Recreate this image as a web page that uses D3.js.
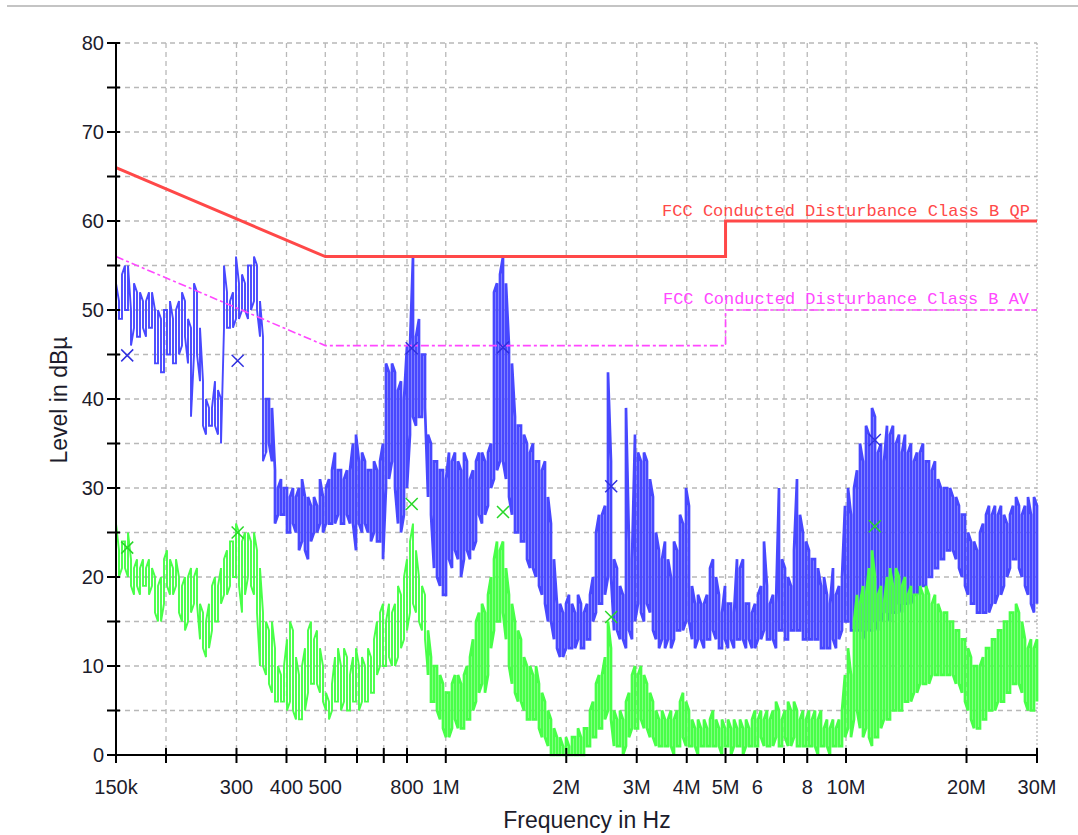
<!DOCTYPE html>
<html>
<head>
<meta charset="utf-8">
<script src="https://cdn.jsdelivr.net/npm/d3@7"></script>
<style>
  html, body { margin: 0; padding: 0; background: #fff; }
  svg { display: block; }
</style>
</head>
<body>
<svg id="chart" width="1078" height="835"></svg>
<script>
// Sweep range of the receiver (log-spaced sweep points)
const sweepStart = 150e3;
const sweepStop = 30e6;

// Peak detector trace: upper / lower level of each sweep bin (dBµV)
const peakHi = [
  53,51,54,55,55,50,53,52,52,51, 51,52,52,50,50,49,50,50,51,49,
  50,51,52,51,49,48,53,52,48,42, 40,39,39,42,41,40,55,52,51,52,
  56,53,54,53,55,55,56,55,51,47, 40,40,39,32,30,31,30,30,29,30,
  29,30,31,29,29,28,29,28,31,29, 30,31,32,34,32,32,31,32,32,35,
  36,33,34,33,32,32,33,32,33,35, 44,43,44,43,41,42,40,46,46,56,
  47,49,45,45,36,35,33,33,32,32, 31,34,33,34,33,32,34,33,31,32,
  33,34,34,33,34,35,52,53,54,56, 53,46,44,38,37,37,36,35,34,35,
  33,33,32,33,29,26,22,17,17,16, 17,18,17,16,18,17,16,17,18,20,
  25,27,27,28,43,33,22,21,19,18, 39,24,22,36,34,33,34,33,31,29,
  25,23,22,24,22,20,24,23,27,26, 30,28,19,17,18,17,17,18,21,22,
  20,18,16,19,17,17,16,22,21,22, 17,17,16,17,18,19,24,19,17,18,
  17,30,22,21,20,19,23,31,27,25, 24,23,22,22,21,19,20,18,17,21,
  18,19,20,28,30,27,30,32,35,33, 37,36,39,38,34,35,33,37,36,37,
  35,36,34,36,34,35,33,34,34,35, 33,33,32,33,31,30,30,30,30,29,
  29,28,27,27,25,24,24,23,25,26, 27,28,27,28,27,28,27,26,27,28,
  29,28,27,28,29,27,29,28
];
const peakLo = [
  48,49,49,50,50,46,48,47,47,48, 47,48,48,44,44,43,43,45,45,44,
  44,45,46,47,44,38,45,45,42,37, 36,37,37,37,36,35,48,48,48,48,
  49,49,50,50,49,50,51,50,47,33, 34,35,33,26,27,27,27,25,25,26,
  25,23,24,23,22,24,25,25,26,25, 26,26,26,26,27,26,26,27,26,26,
  23,26,25,26,25,24,25,24,24,22, 30,31,33,30,26,25,27,30,36,38,
  37,38,38,39,29,27,21,20,19,18, 18,22,21,23,22,20,22,23,22,23,
  24,27,26,27,28,30,31,32,33,33, 31,29,27,25,25,24,24,22,21,21,
  20,19,18,17,15,15,13,12,11,11, 12,12,12,12,13,12,12,13,13,15,
  16,17,17,18,20,20,14,14,13,13, 12,14,13,15,17,16,15,17,16,14,
  13,12,13,12,13,12,13,14,14,14, 15,15,13,12,13,13,12,13,13,14,
  13,12,12,13,12,13,12,13,13,13, 12,13,12,12,13,13,14,13,13,13,
  12,14,14,13,13,14,14,14,14,13, 13,13,13,13,13,12,12,12,12,13,
  12,13,14,15,15,14,14,14,14,13, 14,14,14,15,14,15,16,16,15,16,
  16,17,16,17,17,17,18,18,19,19, 19,20,20,21,21,22,22,23,23,23,
  22,21,20,19,18,17,17,16,16,16, 16,16,17,17,18,18,19,20,21,22,
  22,21,20,19,18,17,16,17
];

// Average detector trace: upper / lower level of each sweep bin (dBµV)
const avgHi = [
  26,23,24,24,25,22,21,22,21,22, 21,22,21,20,19,20,22,23,22,21,
  22,20,19,20,20,21,20,21,17,16, 15,17,19,20,19,21,22,23,24,24,
  26,25,24,25,25,24,25,23,21,16, 15,14,15,12,10,9,10,13,15,14,
  11,9,10,12,14,15,13,14,12,10, 7,6,8,11,12,10,12,11,9,11,
  12,10,11,10,12,11,13,15,16,17, 15,17,16,17,19,18,20,22,24,26,
  23,20,19,18,14,11,10,10,9,8, 7,7,8,9,9,8,9,10,11,13,
  15,16,17,16,18,20,22,24,23,24, 21,18,17,15,14,13,11,10,10,9,
  10,8,7,6,5,4,3,2,2,1, 2,1,2,2,3,2,3,3,5,6,
  8,9,9,11,15,12,5,4,5,4, 6,7,9,10,9,10,9,8,7,6,
  5,4,5,4,4,5,4,5,6,7, 6,5,4,3,4,3,4,3,4,5,
  4,3,4,3,4,3,4,3,4,3, 4,3,4,5,4,5,4,5,4,5,
  6,5,4,5,6,5,6,5,4,5, 4,5,4,5,4,5,3,4,3,4,
  3,4,5,9,12,9,15,18,17,19, 18,21,23,20,18,19,17,20,21,19,
  21,20,19,20,18,19,18,18,19,18, 19,18,17,18,17,16,16,16,15,15,
  14,14,13,13,12,11,10,10,10,11, 12,12,13,13,14,14,15,15,16,16,
  17,16,15,13,12,13,12,13
];
const avgLo = [
  20,20,21,21,20,19,18,19,18,19, 19,18,19,16,15,15,17,19,18,18,
  19,16,15,14,15,16,17,17,13,12, 11,12,14,15,15,17,18,18,19,20,
  20,19,16,18,20,19,18,16,10,10, 9,8,7,6,6,6,6,5,6,5,
  4,4,4,5,7,8,8,8,7,6, 5,4,5,6,6,5,6,5,5,6,
  6,5,6,6,6,7,7,9,10,10, 10,11,10,10,11,12,13,14,16,17,
  16,15,14,13,9,6,6,5,4,3, 2,2,3,4,3,3,3,4,4,5,
  6,7,8,7,9,12,14,15,15,16, 13,10,8,7,6,6,5,4,4,4,
  4,3,2,2,1,0,0,0,0,0, 0,0,0,0,0,0,0,1,1,2,
  2,3,3,4,5,4,1,1,1,0, 1,2,3,3,3,4,3,3,2,2,
  1,1,1,1,1,1,0,1,1,2, 1,1,1,1,0,1,1,1,1,1,
  1,1,0,1,1,0,1,1,1,0, 1,1,1,1,1,2,1,1,1,1,
  2,1,1,2,1,1,2,1,1,1, 1,1,1,1,0,1,1,1,0,1,
  1,1,1,2,3,2,4,5,3,2, 3,2,1,2,2,3,4,4,4,5,
  5,5,5,6,6,6,7,7,8,8, 8,8,9,9,9,9,9,9,9,9,
  8,8,7,6,5,4,3,3,3,4, 4,5,5,5,6,6,6,7,7,8,
  8,8,7,6,5,5,5,6
];

// Final measurement markers (frequency in Hz, level in dBµV)
const markerFreqs = [160e3, 302e3, 822e3, 1.39e6, 2.59e6, 11.8e6];
const markerPeak  = [44.9, 44.3, 45.7, 45.8, 30.2, 35.4];
const markerAvg   = [23.3, 25.0, 28.2, 27.3, 15.5, 25.7];

// FCC Part 15 class B limits (frequency breakpoints, dBµV)
const qpLimitFreqs = [150e3, 500e3, 5e6, 5e6, 30e6];
const qpLimitLevels = [66, 56, 56, 60, 60];
const avLimitFreqs = [150e3, 500e3, 5e6, 5e6, 30e6];
const avLimitLevels = [56, 46, 46, 50, 50];
const qpLimitName = "FCC Conducted Disturbance Class B QP";
const avLimitName = "FCC Conducted Disturbance Class B AV";

// Axis ticks
const freqTicks = [150e3, 200e3, 300e3, 400e3, 500e3, 600e3, 700e3, 800e3, 1e6,
                   2e6, 3e6, 4e6, 5e6, 6e6, 7e6, 8e6, 10e6, 20e6, 30e6];
const freqTickLabels = {150e3: "150k", 300e3: "300", 400e3: "400", 500e3: "500",
  800e3: "800", 1e6: "1M", 2e6: "2M", 3e6: "3M", 4e6: "4M", 5e6: "5M",
  6e6: "6", 8e6: "8", 10e6: "10M", 20e6: "20M", 30e6: "30M"};
const levelTicks = [0, 10, 20, 30, 40, 50, 60, 70, 80];
const levelMinorTicks = [5, 15, 25, 35, 45, 55, 65, 75];

const svg = d3.select("#chart");
const W = 1078, H = 835;
const plot = {left: 116, right: 1037, top: 43, bottom: 755};

const x = d3.scaleLog().domain([sweepStart, sweepStop]).range([plot.left, plot.right]);
const y = d3.scaleLinear().domain([0, 80]).range([plot.bottom, plot.top]);

// sweep point frequencies (log-spaced across the sweep)
const nPts = peakHi.length;
const sweepFreqs = d3.range(nPts).map(i => sweepStart * Math.pow(sweepStop / sweepStart, i / (nPts - 1)));

// window frame line at the top
svg.append("line").attr("x1", 7).attr("x2", W).attr("y1", 6).attr("y2", 6)
  .attr("stroke", "#c4c4c4").attr("stroke-width", 2);

// grid
const grid = svg.append("g");
grid.selectAll("line.h").data(d3.range(5, 85, 5)).join("line")
  .attr("x1", plot.left).attr("x2", plot.right)
  .attr("y1", d => y(d)).attr("y2", d => y(d))
  .attr("stroke", "#b8b8b8").attr("stroke-width", 1.3).attr("stroke-dasharray", "5,4");
grid.selectAll("line.v").data(freqTicks.slice(1, -1)).join("line")
  .attr("x1", d => x(d)).attr("x2", d => x(d))
  .attr("y1", plot.top).attr("y2", plot.bottom)
  .attr("stroke", "#b8b8b8").attr("stroke-width", 1.3).attr("stroke-dasharray", "5,4");
grid.append("line")
  .attr("x1", x(30e6)).attr("x2", x(30e6)).attr("y1", plot.top).attr("y2", plot.bottom)
  .attr("stroke", "#b8b8b8").attr("stroke-width", 1.3).attr("stroke-dasharray", "2,2");

// trace drawn as a min/max zigzag through the sweep bins [from, to]
function tracePath(hi, lo, from, to) {
  const p = d3.path();
  for (let i = from; i <= Math.min(to, hi.length - 1, lo.length - 1); i++) {
    const xi = x(sweepFreqs[i]);
    const a = i % 2 ? hi[i] : lo[i];
    const b = i % 2 ? lo[i] : hi[i];
    if (i === from) p.moveTo(xi, y(a)); else p.lineTo(xi, y(a));
    p.lineTo(xi, y(b));
  }
  return p.toString();
}

// the low-frequency part of each sweep is sparse, the rest is a dense band
function drawTrace(hi, lo, color, splitFreq) {
  const split = d3.bisectLeft(sweepFreqs, splitFreq);
  const g = svg.append("g").attr("fill", "none").attr("stroke", color);
  g.append("path").attr("d", tracePath(hi, lo, 0, split)).attr("stroke-width", 1.9);
  g.append("path").attr("d", tracePath(hi, lo, split, nPts - 1)).attr("stroke-width", 2.7);
}
drawTrace(peakHi, peakLo, "#4848ff", 350e3);
drawTrace(avgHi, avgLo, "#48ff48", 900e3);

// limit lines
const limitLine = d3.line().x(d => x(d[0])).y(d => y(d[1]));
svg.append("path").attr("d", limitLine(d3.zip(avLimitFreqs, avLimitLevels)))
  .attr("fill", "none").attr("stroke", "#ff48ff").attr("stroke-width", 1.6)
  .attr("stroke-dasharray", "8,3,3,3");
svg.append("path").attr("d", limitLine(d3.zip(qpLimitFreqs, qpLimitLevels)))
  .attr("fill", "none").attr("stroke", "#ff4848").attr("stroke-width", 3);

// limit names
svg.append("text").attr("x", 662).attr("y", y(60) - 5)
  .attr("textLength", 368).attr("lengthAdjust", "spacingAndGlyphs")
  .attr("font-family", "'Liberation Mono', 'DejaVu Sans Mono', monospace")
  .attr("font-size", 17).attr("fill", "#ff4848").text(qpLimitName);
svg.append("text").attr("x", 663).attr("y", y(50) - 6)
  .attr("textLength", 366).attr("lengthAdjust", "spacingAndGlyphs")
  .attr("font-family", "'Liberation Mono', 'DejaVu Sans Mono', monospace")
  .attr("font-size", 17).attr("fill", "#ff48ff").text(avLimitName);

// markers
function cross(g, xs, ys, color) {
  const s = 6;
  const pts = d3.zip(xs, ys);
  g.selectAll(null).data(pts).join("path")
    .attr("d", d => {
      const cx = x(d[0]), cy = y(d[1]);
      return `M${cx - s},${cy - s}L${cx + s},${cy + s}M${cx - s},${cy + s}L${cx + s},${cy - s}`;
    })
    .attr("fill", "none").attr("stroke", color).attr("stroke-width", 1.5);
}
const mk = svg.append("g");
cross(mk, markerFreqs, markerPeak, "#3030e0");
cross(mk, markerFreqs, markerAvg, "#28d828");

// axes
const axes = svg.append("g").attr("stroke", "#000");
axes.append("line").attr("x1", plot.left).attr("x2", plot.left)
  .attr("y1", plot.top).attr("y2", plot.bottom).attr("stroke-width", 2);
axes.append("line").attr("x1", plot.left).attr("x2", plot.right)
  .attr("y1", plot.bottom).attr("y2", plot.bottom).attr("stroke-width", 2);
axes.selectAll("line.yt").data(levelTicks.concat(levelMinorTicks)).join("line")
  .attr("x1", plot.left - 9).attr("x2", plot.left + 4)
  .attr("y1", d => y(d)).attr("y2", d => y(d)).attr("stroke-width", 2);
axes.selectAll("line.xt").data(freqTicks).join("line")
  .attr("x1", d => x(d)).attr("x2", d => x(d))
  .attr("y1", plot.bottom - 7).attr("y2", plot.bottom + 8).attr("stroke-width", 2);

const font = "'Liberation Sans', Arial, sans-serif";
svg.append("g").selectAll("text").data(levelTicks).join("text")
  .attr("x", plot.left - 12).attr("y", d => y(d) + 7)
  .attr("text-anchor", "end").attr("font-family", font).attr("font-size", 20)
  .attr("fill", "#1c1c2c").text(d => d);
svg.append("g").selectAll("text").data(freqTicks.filter(f => freqTickLabels[f])).join("text")
  .attr("x", d => x(d)).attr("y", 794)
  .attr("text-anchor", "middle").attr("font-family", font).attr("font-size", 20)
  .attr("fill", "#1c1c2c").text(d => freqTickLabels[d]);

svg.append("text").attr("x", 587).attr("y", 828).attr("text-anchor", "middle")
  .attr("font-family", font).attr("font-size", 23).attr("fill", "#1c1c2c")
  .text("Frequency in Hz");
svg.append("text").attr("transform", "translate(67,400) rotate(-90)")
  .attr("text-anchor", "middle").attr("font-family", font).attr("font-size", 23)
  .attr("fill", "#1c1c2c").text("Level in dBµ");
</script>
</body>
</html>
